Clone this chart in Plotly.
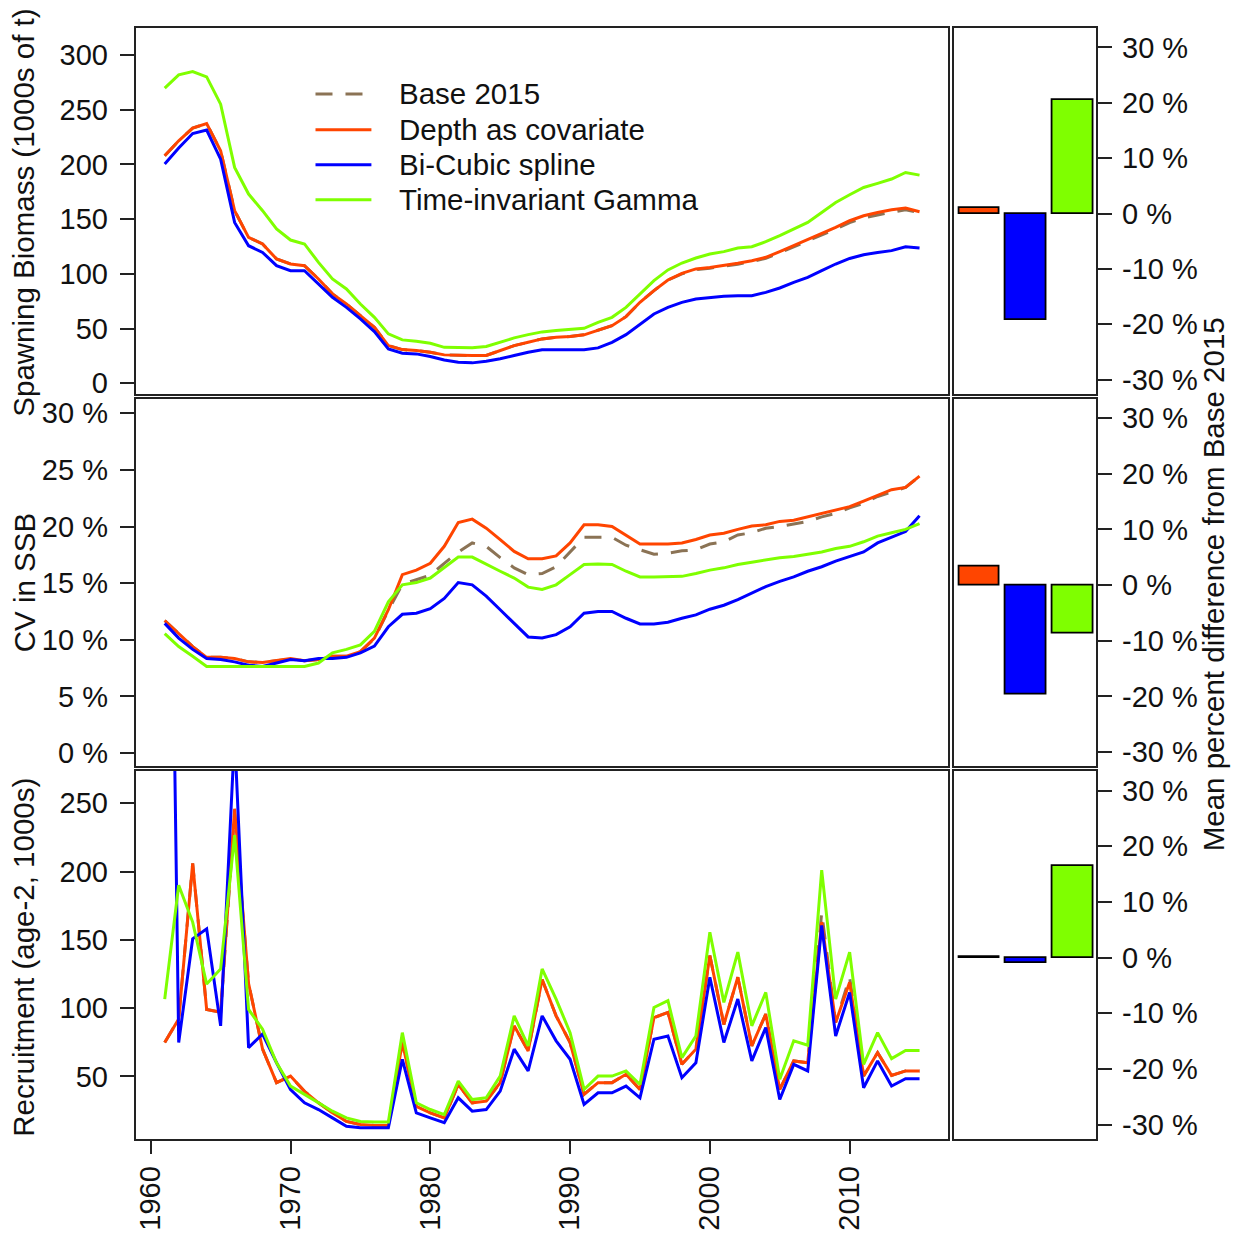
import plotly.graph_objects as go

# ---- data -------------------------------------------------------------
years = list(range(1961, 2016))

model_names = ["Base 2015", "Depth as covariate", "Bi-Cubic spline", "Time-invariant Gamma"]
model_colors = ["#8B7355", "#FF4500", "#0000FF", "#7FFF00"]

# Spawning biomass (1000s of t)
ssb_base = [207.8, 221.5, 233.1, 237.3, 212.4, 157.7, 133.3, 127.3, 113.6, 109.0,
            107.5, 95.3, 81.7, 72.5, 61.9, 51.2, 34.5, 30.8, 29.9, 28.4,
            26.0, 25.4, 25.4, 25.4, 29.9, 34.5, 37.5, 40.6, 42.1, 42.7,
            44.3, 48.2, 52.7, 60.9, 74.0, 84.7, 94.4, 100.0, 103.8, 105.2,
            106.8, 108.8, 111.2, 114.2, 119.3, 124.6, 130.6, 135.6, 141.0, 146.8,
            151.2, 153.8, 156.4, 158.6, 156.0]
ssb_depth = [207.8, 221.5, 233.1, 237.3, 212.4, 157.7, 133.3, 127.3, 113.6, 109.0,
             107.5, 95.3, 81.7, 72.5, 61.9, 51.2, 34.5, 30.8, 29.9, 28.4,
             26.0, 25.4, 25.4, 25.4, 29.9, 34.5, 37.5, 40.6, 42.1, 42.7,
             44.3, 48.2, 52.7, 60.9, 74.0, 84.7, 94.4, 100.5, 104.5, 105.9,
             107.5, 109.6, 112.0, 115.1, 120.3, 125.7, 131.8, 137.0, 142.4, 148.5,
             153.1, 156.1, 158.6, 160.1, 156.8]
ssb_spline = [200.3, 214.9, 228.2, 231.3, 204.8, 147.0, 125.7, 119.6, 107.5, 102.9,
              102.9, 90.8, 78.6, 69.4, 58.9, 47.3, 31.5, 27.5, 26.9, 24.5,
              21.4, 19.3, 18.7, 20.2, 22.4, 25.4, 28.4, 30.6, 30.6, 30.6,
              30.6, 32.4, 37.5, 44.5, 54.3, 63.4, 69.4, 74.0, 77.1, 78.6,
              79.5, 80.1, 80.1, 83.1, 87.1, 92.2, 96.8, 102.9, 109.0, 114.1,
              117.5, 119.6, 121.2, 124.8, 123.6]
ssb_gamma = [269.6, 281.8, 284.8, 279.9, 255.0, 197.2, 172.9, 157.7, 141.0, 130.9,
             127.3, 110.5, 95.3, 86.2, 72.5, 60.3, 45.2, 39.7, 38.4, 36.6,
             32.9, 32.4, 32.4, 33.6, 37.5, 41.5, 44.5, 47.0, 48.2, 49.1,
             50.3, 55.7, 60.3, 69.4, 81.7, 93.8, 103.6, 109.9, 114.5, 118.2,
             120.3, 123.6, 124.8, 129.4, 134.9, 141.0, 147.0, 156.1, 165.2, 172.3,
             178.9, 182.6, 186.6, 192.6, 190.2]

# Coefficient of variation of SSB (%)
cv_base = [11.7, 10.55, 9.4, 8.45, 8.45, 8.35, 8.05, 8.0, 8.15, 8.3,
           8.15, 8.25, 8.55, 8.55, 8.95, 10.1, 12.6, 14.9, 15.3, 15.7,
           16.75, 17.75, 18.55, 18.25, 17.25, 16.35, 15.75, 15.85, 16.45, 17.75,
           19.05, 19.05, 19.05, 18.35, 17.95, 17.55, 17.65, 17.85, 17.95, 18.45,
           18.65, 19.25, 19.45, 19.85, 20.0, 20.25, 20.45, 20.85, 21.15, 21.65,
           22.05, 22.65, 23.05, 23.45, 24.45]
cv_depth = [11.7, 10.55, 9.4, 8.45, 8.45, 8.35, 8.05, 8.0, 8.15, 8.35,
            8.15, 8.25, 8.55, 8.55, 8.95, 10.15, 12.65, 15.75, 16.15, 16.75,
            18.25, 20.35, 20.65, 19.85, 18.85, 17.8, 17.15, 17.15, 17.4, 18.55,
            20.15, 20.15, 20.0, 19.25, 18.45, 18.45, 18.45, 18.55, 18.85, 19.25,
            19.4, 19.75, 20.05, 20.15, 20.45, 20.55, 20.85, 21.15, 21.45, 21.75,
            22.25, 22.75, 23.25, 23.45, 24.45]
cv_spline = [11.45, 10.15, 9.15, 8.35, 8.25, 8.05, 7.75, 7.65, 7.95, 8.25,
             8.15, 8.35, 8.35, 8.45, 8.85, 9.45, 11.15, 12.25, 12.35, 12.75,
             13.65, 15.05, 14.85, 13.85, 12.65, 11.45, 10.25, 10.15, 10.45, 11.15,
             12.35, 12.5, 12.5, 11.9, 11.4, 11.4, 11.55, 11.9, 12.2, 12.7,
             13.05, 13.55, 14.15, 14.7, 15.15, 15.55, 16.05, 16.45, 16.95, 17.35,
             17.75, 18.55, 19.05, 19.55, 20.95]
cv_gamma = [10.55, 9.4, 8.55, 7.65, 7.65, 7.65, 7.65, 7.65, 7.65, 7.65,
            7.65, 7.95, 8.85, 9.15, 9.55, 10.75, 13.35, 14.85, 15.05, 15.45,
            16.35, 17.3, 17.3, 16.65, 16.05, 15.45, 14.65, 14.45, 14.85, 15.75,
            16.65, 16.7, 16.65, 16.05, 15.55, 15.55, 15.55, 15.6, 15.85, 16.15,
            16.35, 16.65, 16.85, 17.05, 17.25, 17.35, 17.55, 17.75, 18.05, 18.25,
            18.65, 19.15, 19.45, 19.75, 20.25]

# Age-2 recruitment (1000s)
rec_base = [74.8, 92.0, 206.0, 99.0, 97.0, 242.0, 118.0, 70.0, 45.4, 50.2,
            39.0, 30.6, 23.3, 17.0, 14.7, 14.0, 14.0, 74.8, 28.0, 23.3,
            19.6, 44.0, 30.6, 31.8, 45.4, 87.0, 68.6, 121.0, 94.3, 74.8,
            36.8, 45.4, 45.4, 51.5, 40.4, 93.0, 96.8, 58.8, 69.9, 138.5,
            88.0, 122.6, 72.3, 95.6, 40.4, 61.3, 60.0, 170.0, 89.5, 122.6,
            50.2, 67.4, 50.7, 54.0, 54.0]
rec_depth = [74.8, 92.0, 206.0, 99.0, 97.0, 246.0, 118.0, 70.0, 45.4, 50.2,
             39.0, 30.6, 23.3, 17.0, 14.7, 14.0, 14.0, 74.8, 28.0, 23.3,
             19.6, 44.0, 30.6, 31.8, 45.4, 87.0, 68.6, 121.0, 94.3, 74.8,
             36.8, 45.4, 45.4, 51.5, 40.4, 93.0, 96.8, 58.8, 69.9, 138.5,
             88.0, 122.6, 72.3, 95.6, 40.4, 61.3, 60.0, 163.0, 89.5, 118.9,
             50.2, 67.4, 50.7, 54.0, 54.0]
rec_spline = [800.0, 74.8, 150.7, 158.0, 87.0, 300.0, 71.0, 81.0, 60.0, 40.4,
              30.6, 25.7, 19.6, 13.5, 12.3, 12.3, 12.3, 62.5, 23.3, 19.6,
              16.0, 34.3, 24.5, 25.7, 39.2, 69.9, 54.0, 94.3, 76.0, 62.5,
              29.4, 38.0, 38.0, 42.9, 34.3, 77.2, 79.6, 49.0, 60.0, 122.6,
              74.8, 106.6, 61.3, 85.8, 33.0, 58.8, 54.0, 160.5, 79.6, 111.5,
              41.7, 61.3, 42.9, 48.3, 48.3]
rec_gamma = [106.6, 190.0, 163.0, 117.6, 128.7, 226.7, 99.0, 84.6, 60.0, 42.9,
             36.8, 30.6, 24.5, 19.6, 17.0, 16.5, 16.5, 82.0, 30.6, 25.7,
             22.0, 46.5, 33.0, 34.3, 50.2, 94.3, 72.3, 128.7, 106.6, 82.0,
             40.4, 50.2, 50.2, 54.0, 44.0, 100.5, 105.4, 63.7, 79.6, 155.6,
             104.2, 141.0, 87.0, 111.5, 47.8, 76.0, 72.8, 201.0, 106.6, 141.0,
             58.8, 82.0, 63.0, 69.0, 69.0]

# Mean percent difference from Base 2015 (depth, spline, gamma)
bar_models = [1, 2, 3]
diff_ssb = [1.0, -19.3, 20.5]
diff_cv = [3.4, -19.7, -8.7]
diff_rec = [0.1, -1.0, 16.4]

# Tick labels
ssb_ticks = [0, 50, 100, 150, 200, 250, 300]
cv_ticks = [0, 5, 10, 15, 20, 25, 30]
cv_ticktext = ["0 %", "5 %", "10 %", "15 %", "20 %", "25 %", "30 %"]
rec_ticks = [50, 100, 150, 200, 250]
pct_ticks = [-30, -20, -10, 0, 10, 20, 30]
pct_ticktext = ["-30 %", "-20 %", "-10 %", "0 %", "10 %", "20 %", "30 %"]
year_ticks = [1960, 1970, 1980, 1990, 2000, 2010]

# ---- figure -----------------------------------------------------------
W, H = 1240, 1239
H_PLACE = 1233.5          # vertical scale used for placing panels and labels
FONT = "Liberation Sans, Arial, sans-serif"
FS = 29
FS_TITLE = 29.5
INK = "#111111"
DASH = "17px,13px"

def px_x(a, b):
    return [a / W, b / W]

def py(p):
    return 1 - p / H_PLACE

def px_y(top, bottom):
    return [py(bottom), py(top)]

left_dom = px_x(134, 948)
right_dom = px_x(954, 1096)
row_doms = [px_y(27, 393), px_y(398, 766), px_y(771, 1139)]

fig = go.Figure()

series = [
    (ssb_base, ssb_depth, ssb_spline, ssb_gamma),
    (cv_base, cv_depth, cv_spline, cv_gamma),
    (rec_base, rec_depth, rec_spline, rec_gamma),
]
diffs = [diff_ssb, diff_cv, diff_rec]

for row, group in enumerate(series):
    xa = "x" if row == 0 else f"x{2 * row + 1}"
    ya = "y" if row == 0 else f"y{2 * row + 1}"
    for k, vals in enumerate(group):
        fig.add_trace(go.Scatter(
            x=years, y=vals, mode="lines", name=model_names[k],
            line=dict(color=model_colors[k], width=3,
                      dash=DASH if k == 0 else "solid"),
            showlegend=False, xaxis=xa, yaxis=ya, hoverinfo="skip"))
    fig.add_trace(go.Bar(
        x=bar_models, y=diffs[row], width=0.865,
        marker=dict(color=model_colors[1:], line=dict(color="#000000", width=1.8)),
        showlegend=False, xaxis=f"x{2 * row + 2}", yaxis=f"y{2 * row + 2}",
        hoverinfo="skip"))

frame = dict(showline=True, linecolor="#222222", linewidth=2, mirror=True,
             showgrid=False, zeroline=False)
tickfont = dict(family=FONT, size=FS, color=INK)

layout = dict(
    width=W, height=H, margin=dict(l=0, r=0, t=0, b=0),
    paper_bgcolor="white", plot_bgcolor="white",
    font=dict(family=FONT, size=FS, color=INK),
    showlegend=False,
    bargap=0,
)

left_ranges = [[-9.3, 324.6], [-1.15, 31.3], [4.4, 273.6]]
left_ticks = [
    dict(tickvals=ssb_ticks, ticktext=[str(v) for v in ssb_ticks]),
    dict(tickvals=cv_ticks, ticktext=cv_ticktext),
    dict(tickvals=rec_ticks, ticktext=[str(v) for v in rec_ticks]),
]

for row in range(3):
    li = 2 * row + 1
    ri = 2 * row + 2
    lx = "xaxis" if li == 1 else f"xaxis{li}"
    ly = "yaxis" if li == 1 else f"yaxis{li}"
    lyref = "y" if li == 1 else f"y{li}"
    lxref = "x" if li == 1 else f"x{li}"
    bottom = row == 2
    layout[lx] = dict(frame, domain=left_dom, anchor=lyref, range=[1958.93, 2017.07],
                      tickmode="array", tickvals=year_ticks,
                      ticktext=[str(v) for v in year_ticks],
                      showticklabels=bottom, ticks="outside" if bottom else "",
                      ticklen=13, tickwidth=2, tickcolor="#222222",
                      tickangle=-90, tickfont=tickfont, ticklabelstandoff=1)
    layout[ly] = dict(frame, domain=row_doms[row], anchor=lxref, range=left_ranges[row],
                      tickmode="array", **left_ticks[row],
                      ticks="outside", ticklen=14, tickwidth=2, tickcolor="#222222",
                      tickfont=tickfont, ticklabelstandoff=6)
    layout[f"xaxis{ri}"] = dict(frame, domain=right_dom, anchor=f"y{ri}",
                                range=[0.47, 3.50], showticklabels=False, ticks="")
    layout[f"yaxis{ri}"] = dict(frame, domain=row_doms[row], anchor=f"x{ri}",
                                side="right", range=[-32.5, 33.5],
                                tickmode="array", tickvals=pct_ticks, ticktext=pct_ticktext,
                                ticks="outside", ticklen=14, tickwidth=2,
                                tickcolor="#222222", tickfont=tickfont,
                                ticklabelstandoff=4)

fig.update_layout(**layout)

# Axis titles
titles = [
    ("Spawning Biomass (1000s of t)", 22, 212),
    ("CV in SSB", 22, 582),
    ("Recruitment (age-2, 1000s)", 22, 957),
    ("Mean percent difference from Base 2015", 1213, 584),
]
for text, cx, cy in titles:
    fig.add_annotation(text=text, x=cx / W, y=py(cy), xref="paper", yref="paper",
                       textangle=-90, showarrow=False, xanchor="center", yanchor="middle",
                       font=dict(family=FONT, size=FS_TITLE, color=INK))

# Legend key inside the biomass panel
key_rows = [93, 129, 164, 199]
for k, name in enumerate(model_names):
    ky = py(key_rows[k])
    fig.add_shape(type="line", xref="paper", yref="paper",
                  x0=314 / W, x1=370 / W, y0=ky, y1=ky,
                  line=dict(color=model_colors[k], width=3,
                            dash=DASH if k == 0 else "solid"))
    fig.add_annotation(text=name, x=396 / W, y=ky, xref="paper", yref="paper",
                       showarrow=False, xanchor="left", yanchor="middle",
                       font=dict(family=FONT, size=FS_TITLE, color=INK))

fig.write_html("out.html")
